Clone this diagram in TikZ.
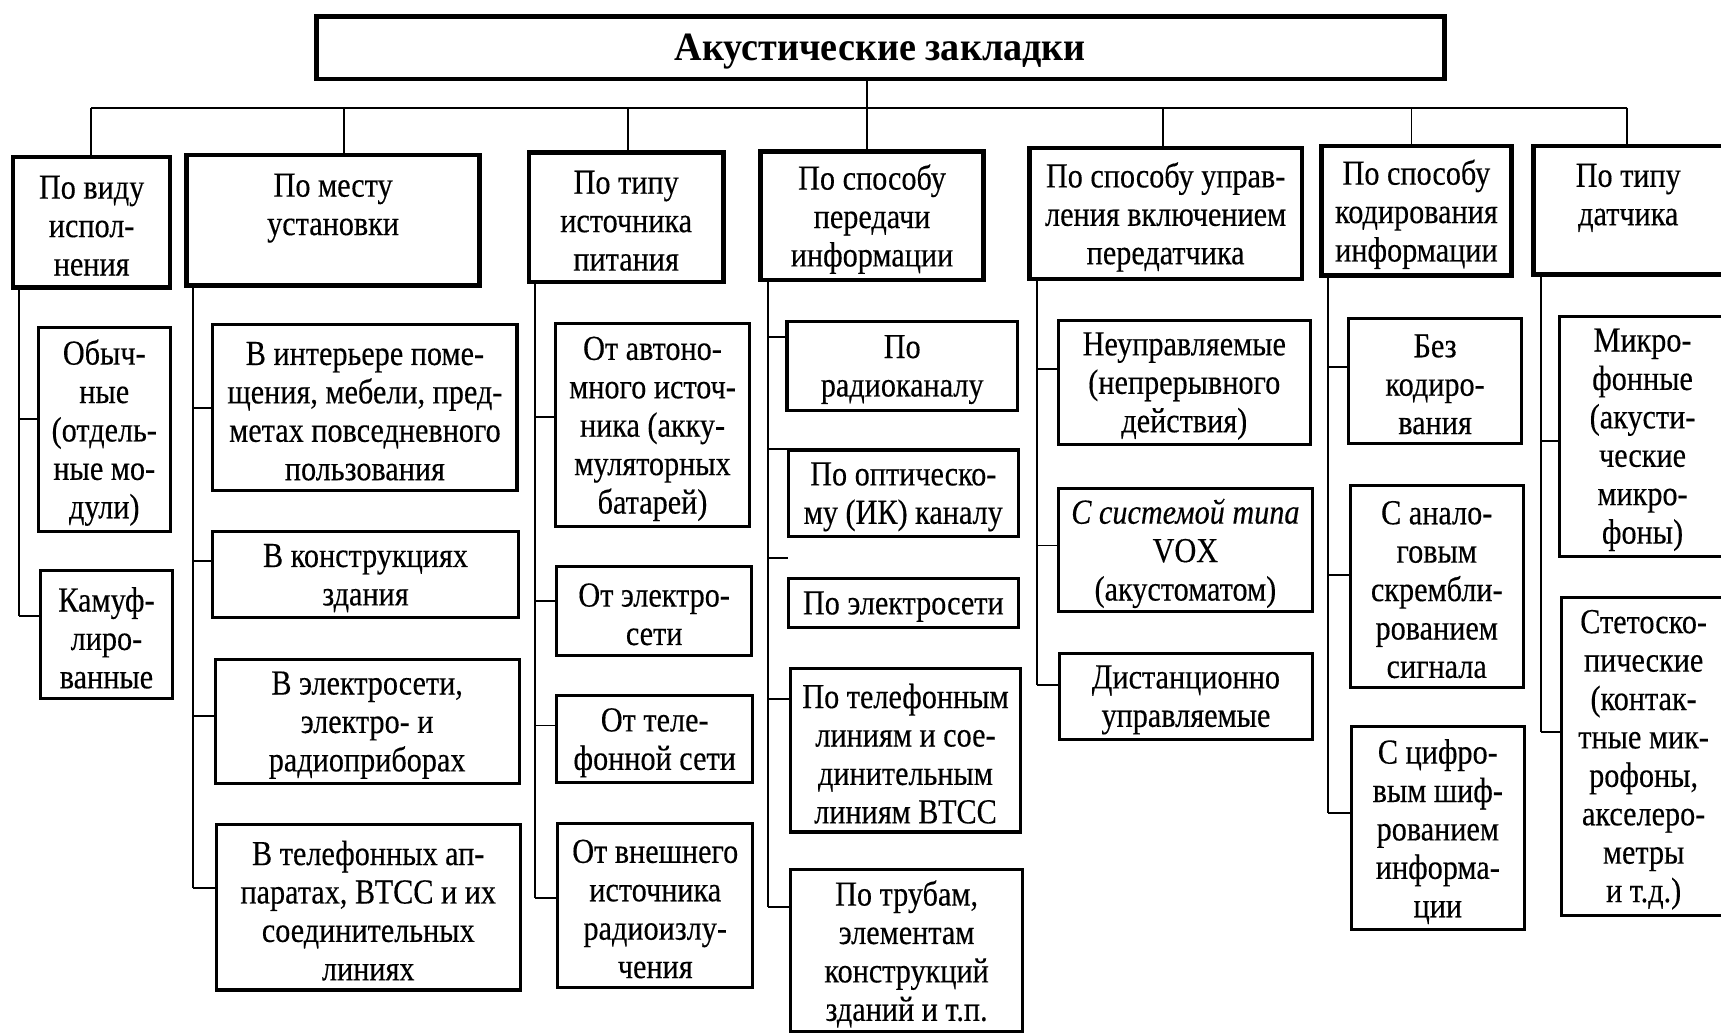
\documentclass[tikz,border=0pt]{standalone}
\usepackage{fontspec}
\setmainfont{Liberation Serif}[FakeStretch=0.86, FakeBold=0.3]
\newfontfamily\ttlfont{Liberation Serif}[FakeStretch=0.95]
\newcommand\bx[7][]{\node[#1, minimum width={(#5-#3)*0.5pt}, minimum height={(#6-#4)*0.5pt}] (#2) at ({(#3+#5)/2},{(#4+#6)/2}) {};
  \node[boxtext] (#2t) at ([yshift=-1.6pt]#2.center) {#7};}
\begin{document}
\begin{tikzpicture}[x=0.5pt,y=-0.5pt,
  every node/.style={inner sep=0pt, outer sep=0pt, align=center, font=\fontsize{16}{17.5}\selectfont},
  boxtext/.style={},
  topbox/.style={draw, line width=2.2pt},
  headbox/.style={draw, line width=2pt},
  leafbox/.style={draw, line width=1.4pt},
  conn/.style={line width=0.9pt}]
\useasboundingbox (0,0) rectangle (1568,942);
\clip (0,0) rectangle (1568,942);
% title
\node[topbox, minimum width=514pt, minimum height=28.5pt] (title) at (802,43.5) {};
\node[font=\ttlfont\bfseries\fontsize{18.3}{20}\selectfont] (titlet) at ([yshift=-1.8pt]title.center) {Акустические закладки};
% level 1
\bx[headbox]{c1}{12}{143}{155}{262}{По виду\\испол-\\нения}
\bx[headbox]{c2}{170}{141}{437}{260}{По месту\\установки\\\mbox{}}
\bx[headbox]{c3}{482}{139}{659}{257}{По типу\\источника\\питания}
\bx[headbox]{c4}{693}{138}{896}{255}{По способу\\передачи\\информации}
\bx[headbox]{c5}{938}{135}{1186}{254}{По способу управ-\\ления включением\\передатчика}
\bx[headbox]{c6}{1204}{133}{1377}{251}{По способу\\кодирования\\информации}
\bx[headbox]{c7}{1397}{133}{1570}{250}{По типу\\датчика\\\mbox{}}
% bus
\coordinate (t0) at (790,98);
\coordinate (b1) at (83,98);
\coordinate (b2) at (313,98);
\coordinate (b3) at (572,98);
\coordinate (b5) at (1060,98);
\coordinate (b6) at (1286,98);
\coordinate (b7) at (1482,98);
\draw[conn] (title.south -| t0) -- (t0 |- c4.north);
\draw[conn] (b1) -- (b7);
\foreach \i in {1,2,3,5,6,7} \draw[conn] (b\i) -- (b\i |- c\i.north);
% column 1
\bx[leafbox]{c1a}{35}{298}{155}{484}{Обыч-\\ные\\(отдель-\\ные мо-\\дули)}
\bx[leafbox]{c1b}{37}{520}{157}{636}{Камуф-\\лиро-\\ванные}
\coordinate (k1a) at (17,382);
\coordinate (k1b) at (17,561);
% column 2
\bx[leafbox]{c2a}{194}{296}{471}{447}{В интерьере поме-\\щения, мебели, пред-\\метах повседневного\\пользования}
\bx[leafbox]{c2b}{194}{484}{472}{563}{В конструкциях\\здания}
\bx[leafbox]{c2c}{196}{601}{473}{714}{В электросети,\\электро- и\\радиоприборах}
\bx[leafbox]{c2d}{197}{751}{474}{902}{В телефонных ап-\\паратах, ВТСС и их\\соединительных\\линиях}
\coordinate (k2a) at (176,372);
\coordinate (k2b) at (176,511);
\coordinate (k2c) at (176,652);
\coordinate (k2d) at (176,809);
% column 3
\bx[leafbox]{c3a}{506}{295}{683}{480}{От автоно-\\много источ-\\ника (акку-\\муляторных\\батарей)}
\bx[leafbox]{c3b}{507}{516}{685}{597}{От электро-\\сети}
\bx[leafbox]{c3c}{507}{634}{686}{713}{От теле-\\фонной сети}
\bx[leafbox]{c3d}{508}{750}{686}{900}{От внешнего\\источника\\радиоизлу-\\чения}
\coordinate (k3a) at (487,380);
\coordinate (k3b) at (487,548);
\coordinate (k3c) at (487,661);
\coordinate (k3d) at (487,818);
% column 4
\bx[leafbox]{c4a}{717}{293}{927}{374}{По\\радиоканалу}
\bx[leafbox]{c4b}{718}{410}{928}{489}{По оптическо-\\му (ИК) каналу}
\bx[leafbox]{c4c}{718}{527}{928}{572}{По электросети}
\bx[leafbox]{c4d}{720}{609}{930}{758}{По телефонным\\линиям и сое-\\динительным\\линиям ВТСС}
\bx[leafbox]{c4e}{720}{792}{932}{940}{По трубам,\\элементам\\конструкций\\зданий и т.п.}
\coordinate (k4a) at (700,307);
\coordinate (k4b) at (700,409);
\coordinate (k4c) at (700,508);
\coordinate (k4d) at (700,637);
\coordinate (k4e) at (700,826);
% column 5
\bx[leafbox]{c5a}{964}{292}{1194}{405}{Неуправляемые\\(непрерывного\\действия)}
\bx[leafbox]{c5b}{964}{445}{1196}{557}{\textit{С системой типа}\\VOX\\(акустоматом)}
\bx[leafbox]{c5c}{965}{595}{1196}{674}{Дистанционно\\управляемые}
\coordinate (k5a) at (945,336);
\coordinate (k5b) at (945,497);
\coordinate (k5c) at (945,624);
% column 6
\bx[leafbox]{c6a}{1229}{290}{1386}{404}{Без\\кодиро-\\вания}
\bx[leafbox]{c6b}{1230}{442}{1388}{626}{С анало-\\говым\\скрембли-\\рованием\\сигнала}
\bx[leafbox]{c6c}{1231}{662}{1389}{847}{С цифро-\\вым шиф-\\рованием\\информа-\\ции}
\coordinate (k6a) at (1210,334);
\coordinate (k6b) at (1210,524);
\coordinate (k6c) at (1210,741);
% column 7
\bx[leafbox]{c7a}{1421}{288}{1572}{507}{Микро-\\фонные\\(акусти-\\ческие\\микро-\\фоны)}
\bx[leafbox]{c7b}{1423}{544}{1572}{834}{Стетоско-\\пические\\(контак-\\тные мик-\\рофоны,\\акселеро-\\метры\\и т.д.)}
\coordinate (k7a) at (1404,402);
\coordinate (k7b) at (1404,667);
% spines
\draw[conn] (c1.south -| k1a) -- (k1b);
\draw[conn] (c2.south -| k2a) -- (k2d);
\draw[conn] (c3.south -| k3a) -- (k3d);
\draw[conn] (c4.south -| k4a) -- (k4e);
\draw[conn] (c5.south -| k5a) -- (k5c);
\draw[conn] (c6.south -| k6a) -- (k6c);
\draw[conn] (c7.south -| k7a) -- (k7b);
% stubs
\foreach \s in {1a,1b,2a,2b,2c,2d,3a,3b,3c,3d,4a,4b,4c,4d,4e,5a,5b,5c,6a,6b,6c,7a,7b}
  \draw[conn] (k\s) -- (k\s -| c\s.west);
\end{tikzpicture}
\end{document}
